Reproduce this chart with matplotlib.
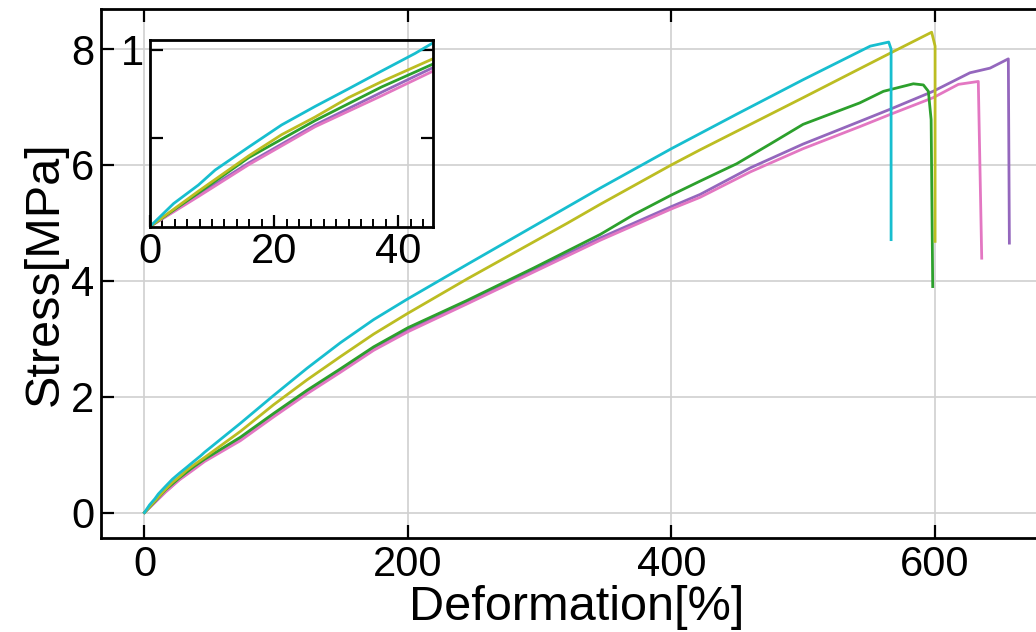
import matplotlib
matplotlib.use('Agg')
import matplotlib.pyplot as plt
from matplotlib.ticker import MultipleLocator

plt.rcParams['font.family'] = ['Liberation Sans', 'DejaVu Sans']

# Стресс-деформация, пять образцов
x_cyan = [0, 3.8, 7.8, 10.5, 15.9, 21.2, 26.6, 32, 37.3, 42.7, 45.6, 72.8, 98, 123.4, 148.7,
          174, 199.3, 244.8, 295.4, 346, 400, 450, 500, 551, 565, 566.8, 566.8]
y_cyan = [0, 0.13, 0.235, 0.32, 0.45, 0.575, 0.68, 0.78, 0.88, 0.98, 1.04, 1.54, 2.02, 2.49, 2.93,
          3.33, 3.68, 4.28, 4.94, 5.60, 6.28, 6.88, 7.47, 8.05, 8.12, 8.0, 4.71]

x_olive = [0, 7.8, 15.9, 21.2, 26.6, 32, 37.3, 45.6, 72.8, 98, 123.4, 148.7, 174, 199.3,
           244.8, 295.4, 320.7, 346, 400, 421.8, 500, 543, 568, 597.6, 600.2, 600.2]
y_olive = [0, 0.20, 0.40, 0.52, 0.62, 0.73, 0.82, 0.95, 1.40, 1.86, 2.29, 2.69, 3.08, 3.43,
           4.03, 4.67, 4.99, 5.32, 6.0, 6.26, 7.16, 7.66, 7.95, 8.29, 8.05, 4.68]

x_green = [0, 7.8, 15.9, 26.6, 37.3, 45.6, 72.8, 98, 123.4, 148.7, 174, 200, 244.8, 295.4,
           346, 371.3, 400, 421.8, 449.6, 475, 500, 543, 561, 583.7, 591.3, 595.1, 597.2, 598.4]
y_green = [0, 0.19, 0.39, 0.60, 0.79, 0.92, 1.30, 1.71, 2.11, 2.48, 2.86, 3.19, 3.66, 4.22,
           4.80, 5.14, 5.48, 5.72, 6.02, 6.36, 6.70, 7.07, 7.27, 7.40, 7.38, 7.27, 6.78, 3.90]

x_purple = [0, 7.8, 15.9, 26.6, 37.3, 45.6, 72.8, 98, 123.4, 148.7, 174, 200, 244.8, 295.4,
            346, 400, 421.8, 460, 500, 543, 566, 598.7, 626.7, 641.9, 655.8, 656.6]
y_purple = [0, 0.18, 0.36, 0.575, 0.76, 0.90, 1.28, 1.69, 2.09, 2.46, 2.84, 3.16, 3.64, 4.19,
            4.74, 5.28, 5.49, 5.95, 6.36, 6.75, 6.96, 7.27, 7.59, 7.67, 7.83, 4.65]

x_pink = [0, 7.8, 15.9, 26.6, 37.3, 45.6, 72.8, 98, 123.4, 148.7, 174, 200, 244.8, 295.4,
          346, 400, 421.8, 460, 500, 543, 566, 598.7, 617.9, 633, 635.6]
y_pink = [0, 0.17, 0.35, 0.565, 0.74, 0.88, 1.24, 1.65, 2.05, 2.42, 2.80, 3.12, 3.60, 4.15,
          4.70, 5.24, 5.44, 5.88, 6.28, 6.66, 6.87, 7.16, 7.39, 7.44, 4.39]

series = [
    (x_purple, y_purple, '#9467bd'),
    (x_pink, y_pink, '#e377c2'),
    (x_green, y_green, '#2ca02c'),
    (x_olive, y_olive, '#bcbd22'),
    (x_cyan, y_cyan, '#17becf'),
]

fig = plt.figure(figsize=(10.36, 6.32), dpi=100)
ax = fig.add_axes([0.0975, 0.1487, 0.918, 0.837])

for xs, ys, c in series:
    ax.plot(xs, ys, color=c, lw=2)

ax.set_xlim(-33, 689)
ax.set_ylim(-0.44, 8.69)
ax.set_xticks([0, 200, 400, 600])
ax.set_yticks([0, 2, 4, 6, 8])
ax.grid(True, color='#d0d0d0', lw=1.2)
ax.tick_params(direction='in', length=9.5, width=1.6, labelsize=30,
               top=True, right=True, pad=5)
for sp in ax.spines.values():
    sp.set_linewidth(2)
ax.set_xlabel('Deformation[%]', fontsize=35, labelpad=0)
ax.set_ylabel('Stress[MPa]', fontsize=35, labelpad=2)

# Вставка: начальный участок
axin = fig.add_axes([0.1448, 0.6416, 0.2732, 0.2951])
axin.set_facecolor('none')
for xs, ys, c in series:
    axin.plot(xs, ys, color=c, lw=2)
axin.set_xlim(0, 45.6)
axin.set_ylim(0, 1.056)
axin.set_xticks([0, 20, 40])
axin.xaxis.set_minor_locator(MultipleLocator(2))
axin.set_yticks([0.5, 1])
axin.set_yticklabels(['', '1'])
axin.tick_params(which='major', direction='in', length=9, width=1.6, labelsize=30,
                 right=True, pad=4)
axin.tick_params(which='minor', direction='in', length=5.5, width=1.4)
for sp in axin.spines.values():
    sp.set_linewidth(2)

fig.savefig('out.png', dpi=100)
